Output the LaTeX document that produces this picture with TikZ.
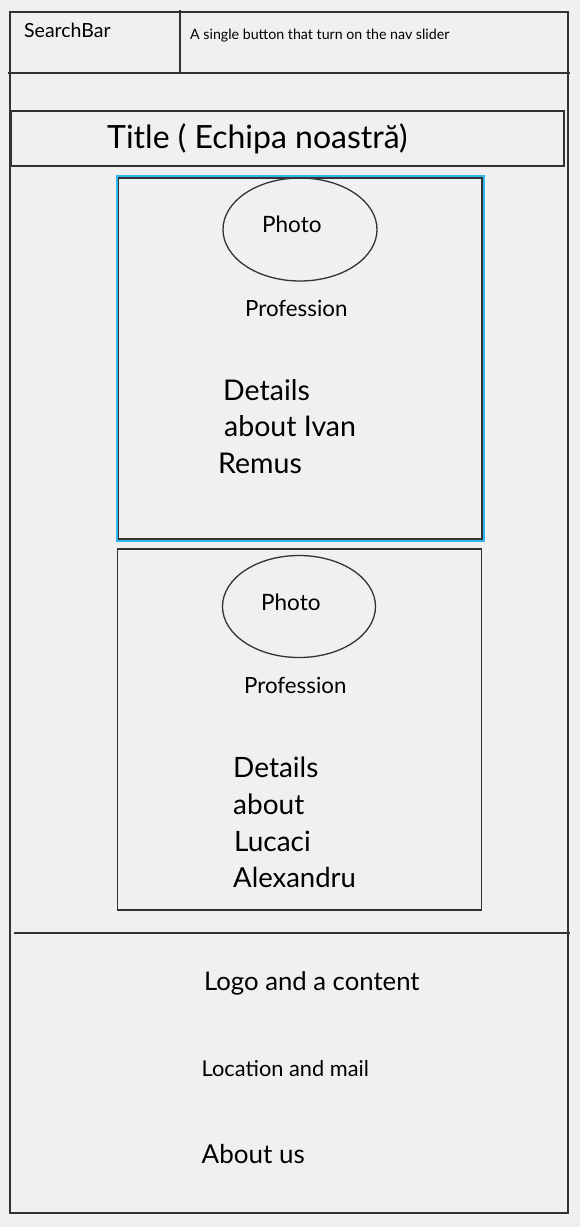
\documentclass[tikz,border=0pt]{standalone}
\usepackage{fontspec}
\setmainfont{Lato}
\usetikzlibrary{shapes.geometric}
\definecolor{paper}{HTML}{F0F0F0}
\definecolor{ink}{HTML}{333333}
\definecolor{pick}{HTML}{2EB8F0}
\tikzset{
  frame/.style={draw=ink, line width=1.4pt},
  rule/.style={draw=ink, line width=2pt},
  photo/.style={ellipse, draw=ink, line width=1.3pt, inner sep=0pt},
  lbl/.style={inner sep=0pt, anchor=base west, text=black},
}
\newcommand{\fs}[1]{\fontsize{#1}{#1}\selectfont}
\begin{document}
\begin{tikzpicture}[x=1pt,y=-1pt]
  % page background
  \fill[paper] (0,0) rectangle (580,1227);
  \useasboundingbox (0,0) rectangle (580,1227);

  % outer frame
  \draw[frame] (10,12) rectangle (568,1213);

  % header bar
  \draw[rule] (8,73) -- (570,73);
  \draw[rule] (180,10) -- (180,73);
  \node[lbl, font=\fs{19.5}] (search) at (24,37) {SearchBar};
  \node[lbl, font=\fs{14.2}] (navbtn) at (190,39) {A single button that turn on the nav slider};

  % title
  \draw[frame] (11,111) rectangle (564,166);
  \node[lbl, font=\fs{32}] (title) at (107,148) {Title ( Echipa noastră)};

  % first card (selected)
  \draw[draw=pick, line width=2.6pt] (117,176.5) rectangle (483.5,540.5);
  \draw[frame] (118.5,178) rectangle (482,539);
  \node[photo, minimum width=154pt, minimum height=103pt] (photoA) at (300,229.5) {};
  \node[lbl, font=\fs{22.5}] (photoAt) at (262,232.5) {Photo};
  \node[lbl, font=\fs{22.3}] (profA) at (245,316.5) {Profession};
  \node[lbl, font=\fs{28.5}] (detA1) at (223,400) {Details};
  \node[lbl, font=\fs{28.5}] (detA2) at (224,436.5) {about Ivan};
  \node[lbl, font=\fs{28.5}] (detA3) at (218,473) {Remus};

  % second card
  \draw[frame] (117.5,549) rectangle (481.5,910);
  \node[photo, minimum width=153pt, minimum height=102pt] (photoB) at (299,606.5) {};
  \node[lbl, font=\fs{22.5}] (photoBt) at (261,610) {Photo};
  \node[lbl, font=\fs{22.3}] (profB) at (244,693) {Profession};
  \node[lbl, font=\fs{28}] (detB1) at (233,777) {Details};
  \node[lbl, font=\fs{28}] (detB2) at (233,814) {about};
  \node[lbl, font=\fs{28}] (detB3) at (234,851) {Lucaci};
  \node[lbl, font=\fs{27.5}] (detB4) at (233,887.5) {Alexandru};

  % footer
  \draw[frame] (14,933) -- (570,933);
  \node[lbl, font=\fs{25.7}] (logo) at (204,990.5) {Logo and a content};
  \node[lbl, font=\fs{21.8}] (loc) at (201.5,1076.5) {Location and mail};
  \node[lbl, font=\fs{26}] (about) at (201.5,1163) {About us};
\end{tikzpicture}
\end{document}
